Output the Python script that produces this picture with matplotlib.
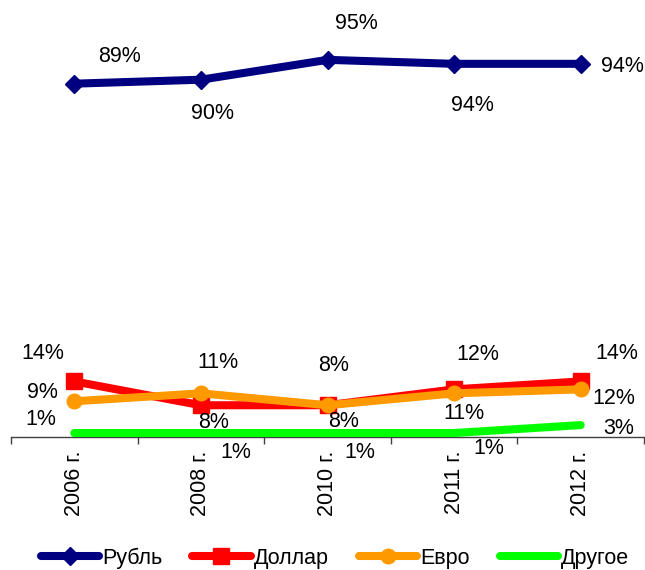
import matplotlib
matplotlib.use('Agg')
import matplotlib.pyplot as plt

plt.rcParams['font.family'] = ['Liberation Sans', 'DejaVu Sans']

# Data
years = ['2006 г.', '2008 г.', '2010 г.', '2011 г.', '2012 г.']
rub = [89, 90, 95, 94, 94]
usd = [14, 8, 8, 12, 14]
eur = [9, 11, 8, 11, 12]
other = [1, 1, 1, 1, 3]

# Label offsets in pixels (dx, dy), y up
rub_off = [(45, 27), (12, -34), (29, 36), (18, -42), (42, -3)]
usd_off = [(-31, 28), (13, -17), (16, -16), (24, 35), (36, 28)]
eur_off = [(-32, 9), (17, 31), (6, 40), (10, -20), (33, -9)]
oth_off = [(-33, 14), (35, -19), (32, -19), (35, -15), (38, -3)]

FS = 15.5

fig = plt.figure(figsize=(6.45, 5.7), dpi=100)
ax = fig.add_axes([11 / 645, 133 / 570, 633 / 645, 397 / 570])

x = list(range(len(years)))
series = [
    ('Рубль', rub, '#000080', 'D', 9, rub_off),
    ('Доллар', usd, '#FF0000', 's', 11, usd_off),
    ('Евро', eur, '#FF9900', 'o', 10.5, eur_off),
    ('Другое', other, '#00FF00', None, 0, oth_off),
]

for name, vals, col, mk, ms, offs in series:
    ax.plot(x, vals, color=col, lw=5.8, marker=mk, markersize=ms,
            solid_capstyle='round', label=name, zorder=3)
    for xi, v, off in zip(x, vals, offs):
        ax.annotate(f'{v}%', (xi, v), xytext=off, textcoords='offset pixels',
                    ha='center', va='center', fontsize=FS, color='black',
                    annotation_clip=False, zorder=5)

ax.set_xlim(-0.5, len(years) - 0.5)
ax.set_ylim(0, 100)
ax.set_yticks([])
for s in ['left', 'right', 'top']:
    ax.spines[s].set_visible(False)
ax.spines['bottom'].set_color('#404040')
ax.spines['bottom'].set_linewidth(1)

ax.set_xticks([i - 0.5 for i in range(len(years) + 1)])
ax.set_xticklabels([])
ax.tick_params(axis='x', which='major', length=5, width=1, color='#404040', direction='out')
ax.set_xticks(x, minor=True)
ax.set_xticklabels(years, minor=True, rotation=90, fontsize=FS)
ax.tick_params(axis='x', which='minor', length=0, pad=10)
for lbl in ax.get_xticklabels(minor=True):
    lbl.set_va('top')
    lbl.set_ha('center')

fig.legend(loc='center', bbox_to_anchor=(335 / 645, 1 - 558 / 570), ncol=4,
           frameon=False, fontsize=FS, handlelength=2.7, handletextpad=0.15,
           columnspacing=1.4)

fig.savefig('out.png', dpi=100)
plt.close()
